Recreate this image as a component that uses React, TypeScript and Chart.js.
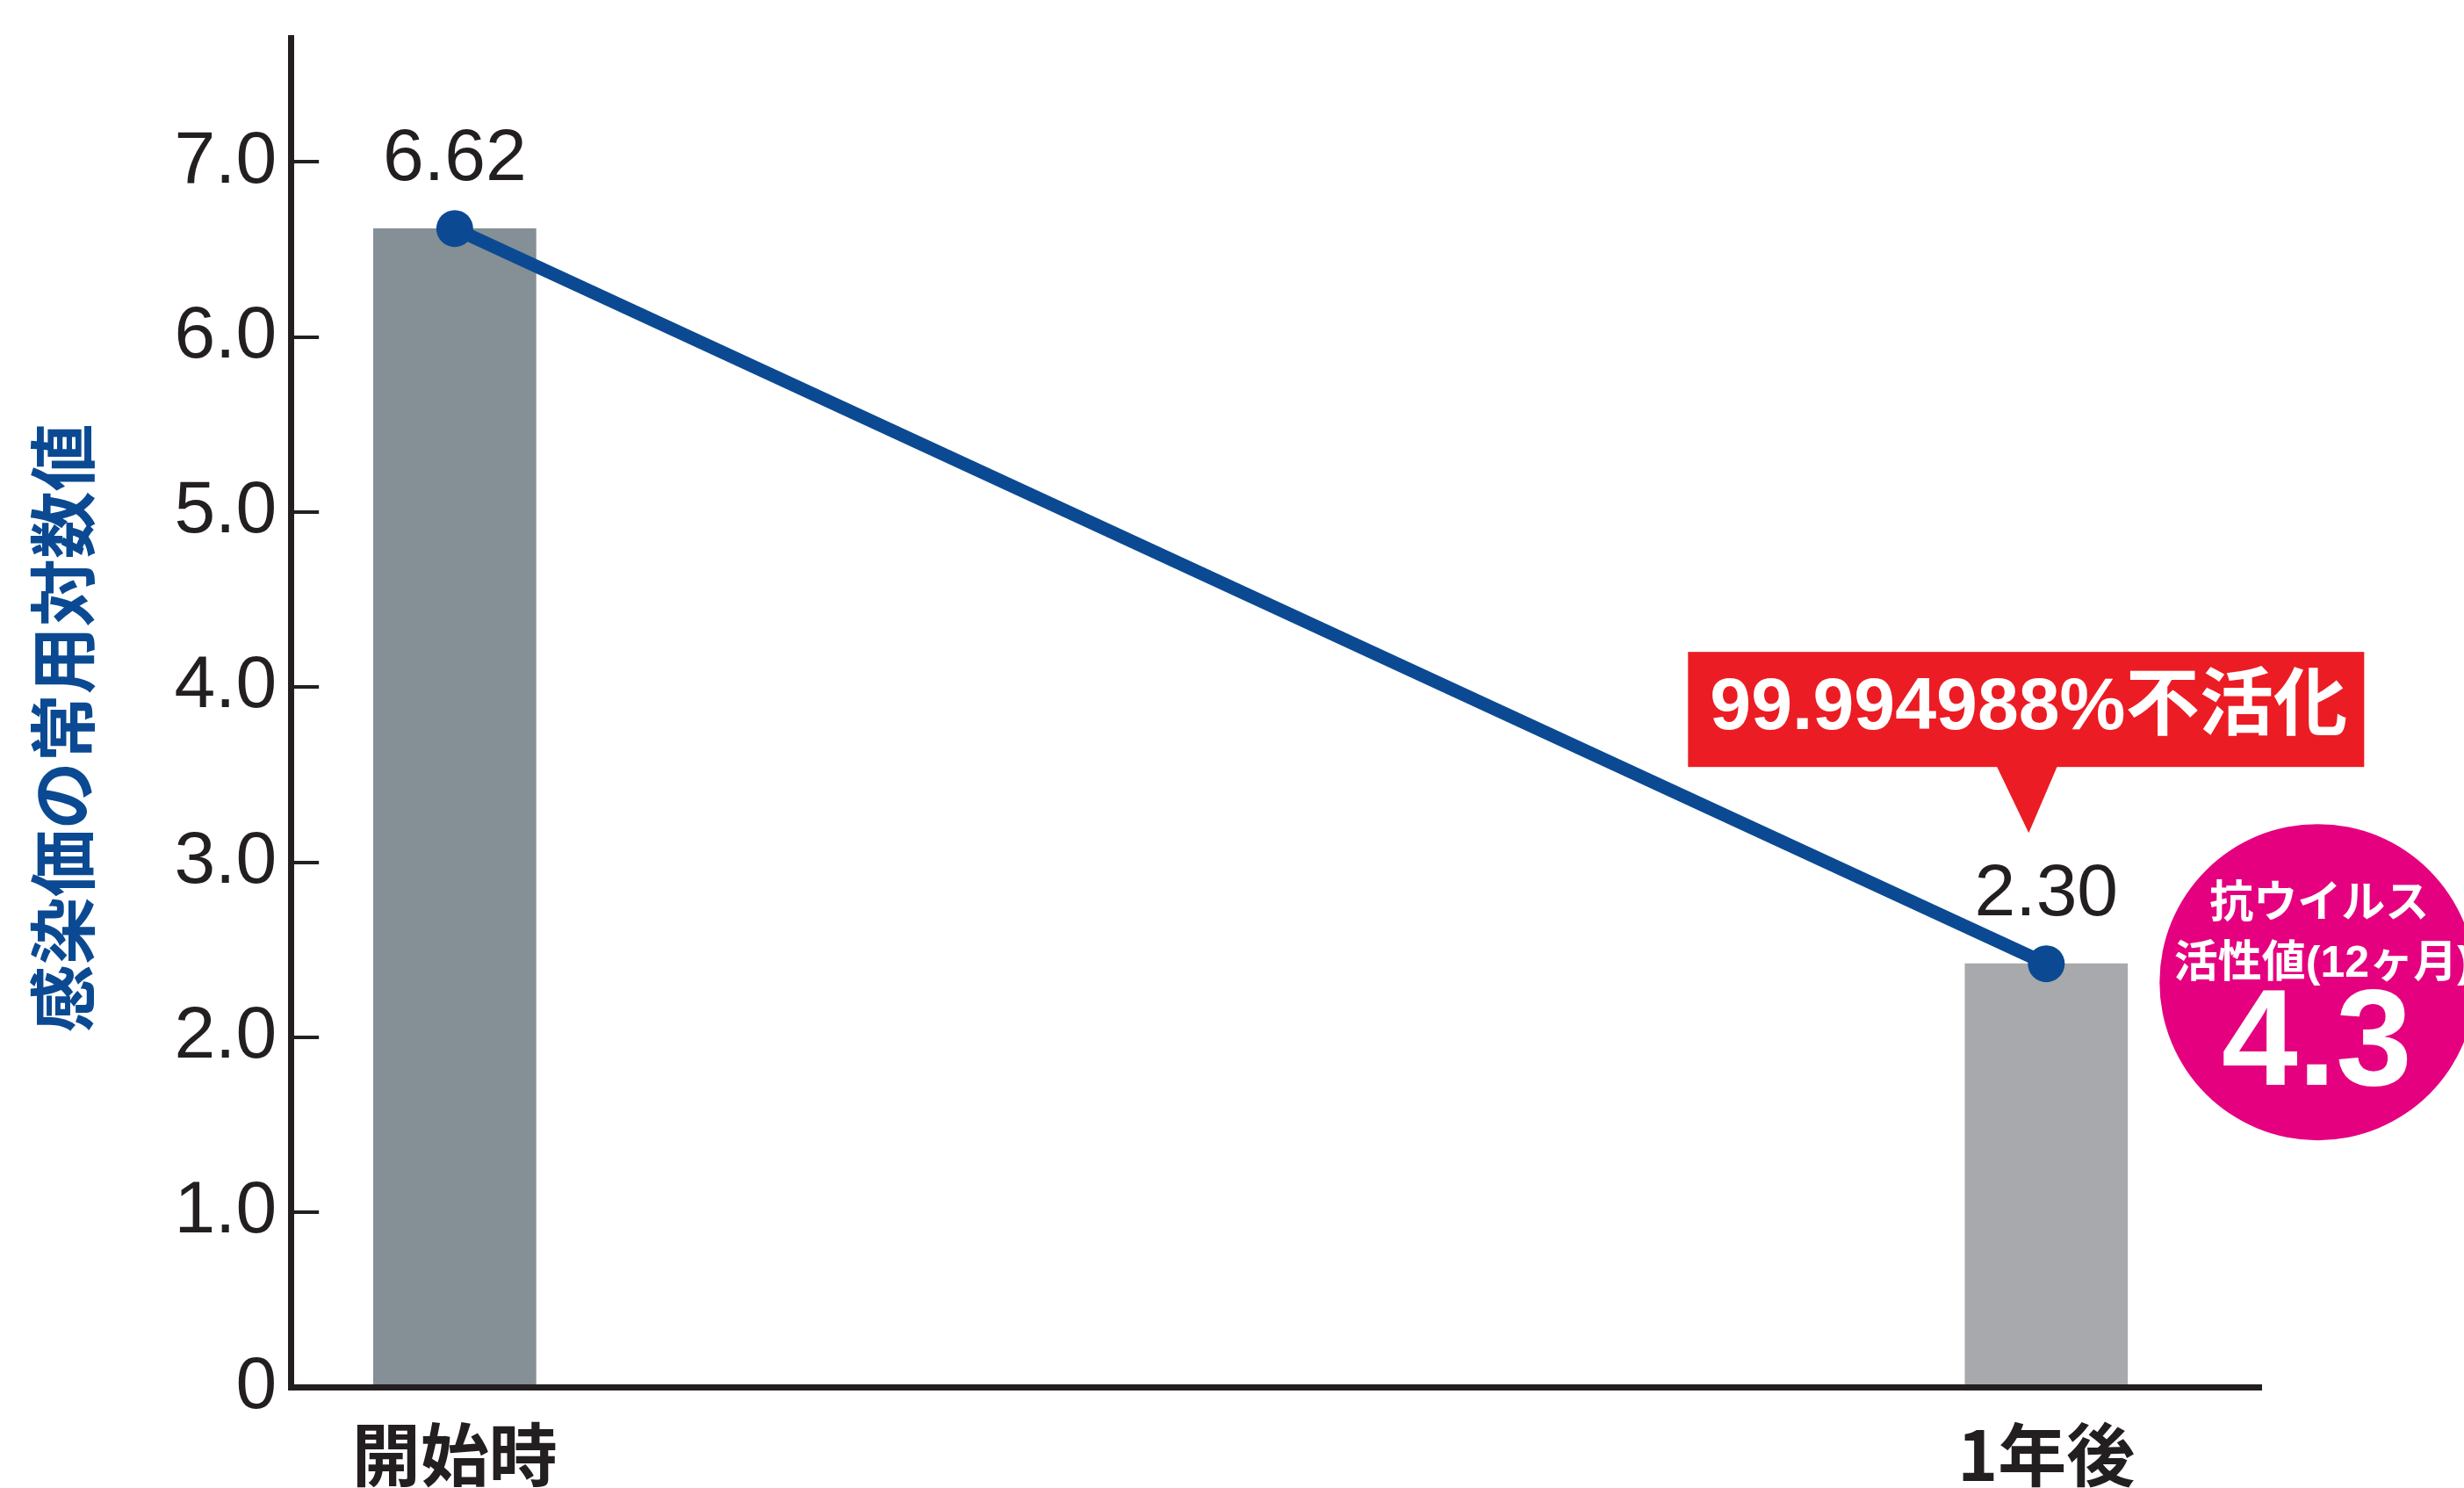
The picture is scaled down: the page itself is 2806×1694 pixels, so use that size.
import React, { useEffect, useRef } from "react";
import { Chart, registerables } from "chart.js";

Chart.register(...registerables);

// ---- data ----
const categories = ["開始時", "1年後"];
const barValues = [6.62, 2.42];
const valueLabels = ["6.62", "2.30"];
const yTicks = [0, 1, 2, 3, 4, 5, 6, 7];
const yTickLabels = ["0", "1.0", "2.0", "3.0", "4.0", "5.0", "6.0", "7.0"];
const yTitle = "感染価の常用対数値  ";
const calloutText = "99.994988%不活化";
const badgeLines = ["抗ウイルス", "活性値(12ヶ月)"];
const badgeValue = "4.3";

// ---- styles ----
const INK = "#231f20";
const NAVY = "#0b4a92";
const BAR_COLORS = ["#848f96", "#a7a9ac"];
const RED = "#ec1c24";
const MAGENTA = "#e5007f";
const LATIN = "'Liberation Sans', 'Noto Sans CJK JP', sans-serif";
const CJK = "'Noto Sans CJK JP', sans-serif";

const annotate = {
  id: "annotate",
  afterDatasetsDraw(chart: any) {
    const ctx = chart.ctx as CanvasRenderingContext2D;
    const ys = chart.scales.y;
    const area = chart.chartArea;
    ctx.save();
    // inward tick marks
    ctx.strokeStyle = INK;
    ctx.lineWidth = 4;
    yTicks.forEach((v) => {
      if (v === 0) return;
      const py = Math.round(ys.getPixelForValue(v));
      ctx.beginPath();
      ctx.moveTo(area.left, py);
      ctx.lineTo(area.left + 32, py);
      ctx.stroke();
    });

    // value labels above points
    const meta = chart.getDatasetMeta(1);
    ctx.fillStyle = INK;
    ctx.textAlign = "center";
    ctx.textBaseline = "middle";
    ctx.font = `84px ${LATIN}`;
    meta.data.forEach((pt: any, i: number) => {
      ctx.fillText(valueLabels[i], pt.x, pt.y - 78);
    });

    // callout box
    const p = meta.data[1];
    const bx = p.x;
    const by = p.y;
    ctx.fillStyle = RED;
    ctx.fillRect(bx - 408, by - 355, 770, 131);
    ctx.beginPath();
    ctx.moveTo(bx - 57, by - 226);
    ctx.lineTo(bx + 13, by - 226);
    ctx.lineTo(bx - 20, by - 149);
    ctx.closePath();
    ctx.fill();
    let fs = 86;
    ctx.font = `bold ${fs}px ${LATIN}`;
    const w = ctx.measureText(calloutText).width;
    fs = (fs * 726) / w;
    ctx.font = `bold ${fs}px ${LATIN}`;
    ctx.fillStyle = "#ffffff";
    ctx.fillText(calloutText, bx - 20, by - 290);

    // badge circle
    const cx = bx + 309;
    const cy = by + 21;
    ctx.fillStyle = MAGENTA;
    ctx.beginPath();
    ctx.arc(cx, cy, 180, 0, Math.PI * 2);
    ctx.fill();
    ctx.fillStyle = "#ffffff";
    ctx.font = `bold 50px ${CJK}`;
    ctx.fillText(badgeLines[0], cx + 2, cy - 93);
    ctx.font = `bold 50px ${LATIN}`;
    ctx.fillText(badgeLines[1], cx + 6, cy - 20);
    ctx.font = `bold 156px ${LATIN}`;
    ctx.fillText(badgeValue, cx - 1, cy + 74);
    ctx.restore();
  },
};

export default function App() {
  const ref = useRef<HTMLCanvasElement | null>(null);

  useEffect(() => {
    if (!ref.current) return;
    const points = barValues.map((v, i) => ({ x: i, y: v }));
    const chart = new Chart(ref.current, {
      type: "bar",
      data: {
        datasets: [
          {
            type: "bar",
            data: points,
            backgroundColor: BAR_COLORS,
            borderWidth: 0,
            barThickness: 185,
            order: 1,
          } as any,
          {
            type: "line",
            data: points,
            borderColor: NAVY,
            borderWidth: 15,
            pointRadius: 21,
            pointBackgroundColor: NAVY,
            pointBorderWidth: 0,
            tension: 0,
            order: 0,
          } as any,
        ],
      },
      options: {
        responsive: false,
        maintainAspectRatio: false,
        animation: false,
        layout: { padding: { left: 0, top: 43, right: 231, bottom: 27 } },
        plugins: { legend: { display: false }, tooltip: { enabled: false } },
        scales: {
          x: {
            type: "linear",
            min: -0.103,
            max: 1.135,
            offset: false,
            grid: { display: false, drawTicks: false },
            border: { display: true, color: INK, width: 7, z: 1 } as any,
            afterBuildTicks: (s: any) => {
              s.ticks = categories.map((_, i) => ({ value: i }));
            },
            ticks: {
              padding: 30,
              color: INK,
              autoSkip: false,
              maxRotation: 0,
              font: { family: CJK, size: 78, weight: "bold", lineHeight: 1.2 },
              callback: (v: any) => categories[Math.round(Number(v))],
            },
          },
          y: {
            type: "linear",
            min: 0,
            max: 7.71,
            grid: { display: false, drawTicks: false },
            border: { display: true, color: INK, width: 7, z: 1 } as any,
            afterBuildTicks: (s: any) => {
              s.ticks = yTicks.map((v) => ({ value: v }));
            },
            ticks: {
              padding: 16,
              color: INK,
              font: { family: LATIN, size: 84, lineHeight: 0.6 },
              callback: (v: any) => yTickLabels[yTicks.indexOf(Number(v))],
            },
            title: {
              display: true,
              text: yTitle,
              color: NAVY,
              font: { family: CJK, size: 77, weight: "bold", lineHeight: 1.2 },
              padding: { top: 26, bottom: 64 },
            },
          },
        },
      } as any,
      plugins: [annotate],
    });
    return () => chart.destroy();
  }, []);

  return (
    <div
      style={{
        position: "fixed",
        left: 0,
        top: 0,
        width: 2806,
        height: 1694,
        overflow: "hidden",
        background: "#ffffff",
      }}
    >
      <canvas ref={ref} width={2806} height={1760} style={{ display: "block" }} />
    </div>
  );
}
